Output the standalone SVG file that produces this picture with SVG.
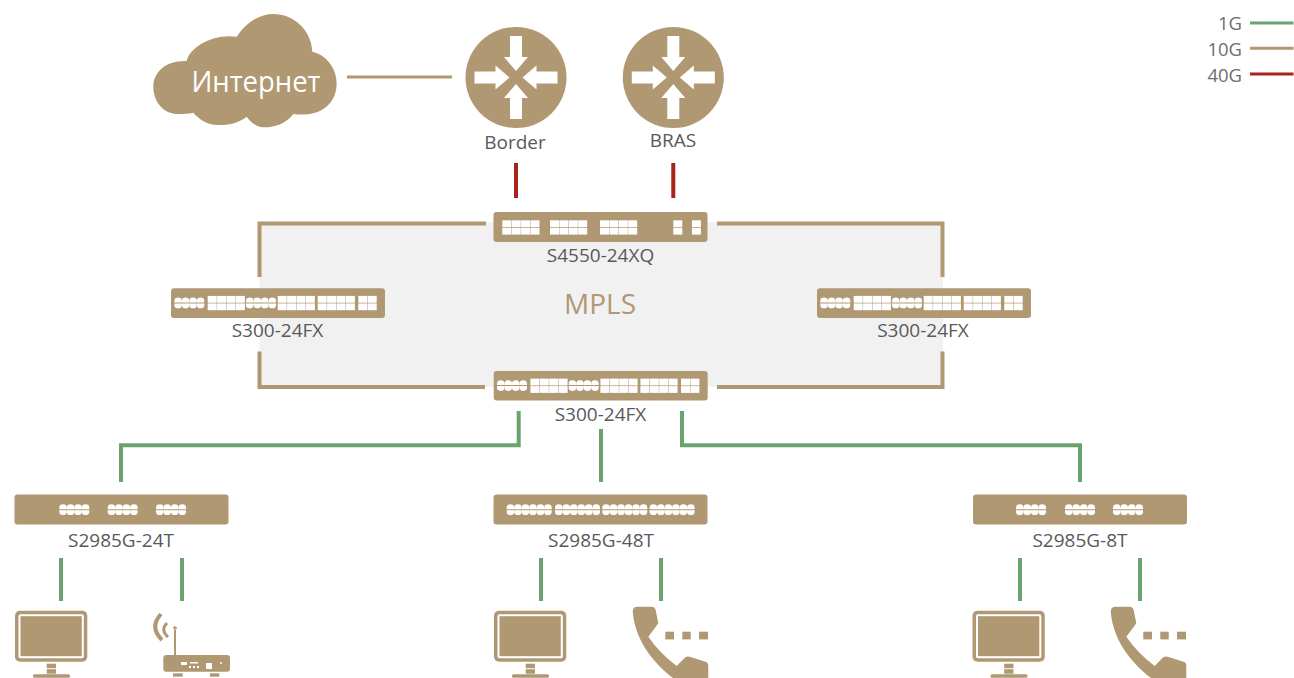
<svg xmlns="http://www.w3.org/2000/svg" width="1294" height="678" viewBox="0 0 1294 678">
<style>
.t{fill:#b09872}
.w{fill:#fff}
.l{font-family:"Open Sans","Noto Sans","Liberation Sans",sans-serif;font-size:19px;fill:#58595b;text-anchor:middle}
.lg{font-family:"Open Sans","Noto Sans","Liberation Sans",sans-serif;font-size:18.500px;fill:#6d6e70;text-anchor:end}
.c{fill:none;stroke-linecap:butt}
.g{stroke:#69a36d;stroke-width:4}
.b{stroke:#b09872;stroke-width:4}
.r{stroke:#a8231a;stroke-width:4}
.th{stroke-width:3}
</style>
<defs>
<path id="a" d="M-6-41.500H6V-20.500H12L0-6.500L-12-20.500H-6Z" fill="#fff"/>
<g id="router"><circle r="50.500" fill="#b09872"/><use href="#a"/><use href="#a" transform="rotate(90)"/><use href="#a" transform="rotate(180)"/><use href="#a" transform="rotate(270)"/></g>
<g id="p" fill="#fff"><path d="M0 6.500V5A3.750 3.400 0 0 1 7.500 5V6.500Z"/><path d="M0 7.500V9A3.750 3.400 0 0 0 7.500 9V7.500Z"/></g>
<g id="c4"><use href="#p"/><use href="#p" x="7.500"/><use href="#p" x="15"/><use href="#p" x="22.500"/></g>
<g id="c6"><use href="#c4"/><use href="#p" x="30"/><use href="#p" x="37.500"/></g>
<g id="s" fill="#fff"><rect width="9" height="6.800"/><rect y="7.500" width="9" height="6.800"/></g>
<g id="s2"><use href="#s"/><use href="#s" x="9.400"/></g>
<g id="s4"><use href="#s2"/><use href="#s2" x="18.800"/></g>
<g id="s300"><rect width="214" height="29.600" rx="3" fill="#b09872"/><use href="#c4" x="3.300" y="7.600"/><use href="#s4" x="36.700" y="7.600"/><use href="#c4" x="75" y="7.600"/><use href="#s4" x="106.700" y="7.600"/><use href="#s4" x="146.700" y="7.600"/><use href="#s2" x="187.300" y="7.600"/></g>
<rect id="dev" width="214" height="30" rx="3" fill="#b09872"/>
<g id="pc"><rect width="72.300" height="51" rx="5" fill="#b09872"/><rect x="3.500" y="3.500" width="65.300" height="44" rx="2" fill="#fff"/><rect x="5.500" y="5.500" width="61.300" height="40" fill="#b09872"/><rect x="31.700" y="53" width="9.300" height="4.500" fill="#b09872"/><rect x="31.700" y="58.500" width="9.300" height="4.500" fill="#b09872"/><rect x="18" y="63.500" width="37" height="3.500" rx="1.500" fill="#b09872"/></g>
<g id="phone" fill="#b09872"><path d="M.2 5.700Q.2 .7 5 .7H19Q23 .7 23.500 5.700L25.800 17.300L15.800 30.700Q27 47 44.200 60L51 53Q54 49.500 58 51L73 55.700Q75.800 56.500 75.800 60V72H40.500C25 60 3 38 .2 5.700Z"/><rect x="32.800" y="25.700" width="8.700" height="7.700"/><rect x="49.800" y="25.700" width="8.400" height="7.700"/><rect x="66.500" y="25.700" width="9" height="7.700"/></g>
</defs>

<rect id="mpls-area" x="259.500" y="222" width="683.500" height="165" fill="#f1f1f1"/>

<g id="connectors" class="c">
<path class="b th" d="M347 77H452"/>
<path class="r" d="M516 163V198M673.300 163V198"/>
<path class="b" d="M259.500 277V223.500H486M717 223.500H942.500V277M259.500 351.500V387H485M717 387H942.500V351.500"/>
<path class="g" d="M518.700 411V445.300H121V482M601 429V482M682 411V445.300H1080V482"/>
<path class="g" d="M61 558V601M182 558V601M541 558V601M661 558V601M1020 558V601M1140 558V601"/>
</g>

<g id="internet">
<path class="t" transform="translate(150 0) scale(.3333)" d="M10 260C10 215 50 180 110 183C120 140 190 100 260 110C290 65 330 42 370 42C430 42 485 90 487 155C530 165 560 205 560 250C560 300 530 325 505 335C480 345 450 345 430 342C410 370 375 382 345 382C320 382 300 365 290 350C265 370 235 375 205 375C170 375 145 355 130 338C110 342 90 343 85 342C40 342 10 305 10 260Z"/>
<text x="256" y="92" text-anchor="middle" font-family="'Open Sans','Noto Sans',sans-serif" font-size="28.500" textLength="129" lengthAdjust="spacingAndGlyphs" fill="#fff">Интернет</text>
</g>
<g id="border"><use href="#router" x="516" y="77.500"/><text class="l" x="515" y="149.300">Border</text></g>
<g id="bras"><use href="#router" x="673.300" y="77.500"/><text class="l" x="673" y="147.300">BRAS</text></g>

<g id="s4550">
<use href="#dev" x="493.500" y="212"/>
<use href="#s4" x="502.300" y="220.300"/><use href="#s4" x="550" y="220.300"/><use href="#s4" x="600" y="220.300"/><use href="#s" x="673.300" y="220.300"/><use href="#s" x="691.900" y="220.300"/>
<text class="l" x="600.500" y="262.300">S4550-24XQ</text>
</g>
<g id="s300-left"><use href="#s300" x="171" y="288.300"/><text class="l" x="277.500" y="337.300">S300-24FX</text></g>
<g id="s300-right"><use href="#s300" x="817" y="288.300"/><text class="l" x="923" y="337.300">S300-24FX</text></g>
<g id="s300-bottom"><use href="#s300" x="493.700" y="371"/><text class="l" x="600.500" y="420.500">S300-24FX</text></g>
<text id="mpls" x="600" y="314" text-anchor="middle" font-family="'Open Sans','Noto Sans',sans-serif" font-size="28" fill="#b09872">MPLS</text>

<g id="s2985-24t"><use href="#dev" x="14.500" y="494.500"/><use href="#c4" x="59.300" y="502.700"/><use href="#c4" x="107.700" y="502.700"/><use href="#c4" x="156" y="502.700"/><text class="l" x="121" y="547">S2985G-24T</text></g>
<g id="s2985-48t"><use href="#dev" x="493.500" y="494.500"/><use href="#c6" x="506.700" y="502.700"/><use href="#c6" x="555" y="502.700"/><use href="#c6" x="602.300" y="502.700"/><use href="#c6" x="649.600" y="502.700"/><text class="l" x="601" y="547">S2985G-48T</text></g>
<g id="s2985-8t"><use href="#dev" x="973" y="494.500"/><use href="#c4" x="1016" y="502.700"/><use href="#c4" x="1065" y="502.700"/><use href="#c4" x="1113" y="502.700"/><text class="l" x="1080" y="547">S2985G-8T</text></g>

<g id="pc-1"><use href="#pc" x="15" y="610.700"/></g>
<g id="wifi-router">
<rect class="t" x="163.300" y="655" width="66.700" height="16.700" rx="3"/>
<rect class="t" x="173" y="673.300" width="9.700" height="3.400"/><rect class="t" x="210" y="673.300" width="9.300" height="3.400"/>
<rect class="t" x="174" y="630" width="2" height="26"/><circle class="t" cx="175" cy="628" r="1.800"/>
<rect class="w" x="181" y="662" width="6" height="3"/><rect class="w" x="190" y="662" width="8" height="1.500"/><rect class="w" x="189" y="666" width="2" height="2"/><rect class="w" x="193" y="666" width="2" height="2"/><rect class="w" x="197" y="666" width="2" height="2"/><rect class="w" x="206" y="663" width="6" height="6"/><circle class="w" cx="221" cy="663" r="1"/>
<path fill="none" stroke="#b09872" d="M161 614Q149 627 162 640" stroke-width="4"/>
<path fill="none" stroke="#b09872" d="M167 623Q160 630 168 637" stroke-width="3"/>
</g>
<g id="pc-2"><use href="#pc" x="494" y="610.700"/></g>
<g id="phone-1"><use href="#phone" x="632.500" y="606"/></g>
<g id="pc-3"><use href="#pc" x="972.500" y="610.700"/></g>
<g id="phone-2"><use href="#phone" x="1110.500" y="606"/></g>

<g id="legend" class="c">
<text class="lg" x="1242" y="30">1G</text><path class="g th" d="M1250 23H1293.500"/>
<text class="lg" x="1242" y="55.700">10G</text><path class="b th" d="M1250 48.300H1293.500"/>
<text class="lg" x="1242" y="81.700">40G</text><path class="r th" d="M1250 74H1293.500"/>
</g>
</svg>
